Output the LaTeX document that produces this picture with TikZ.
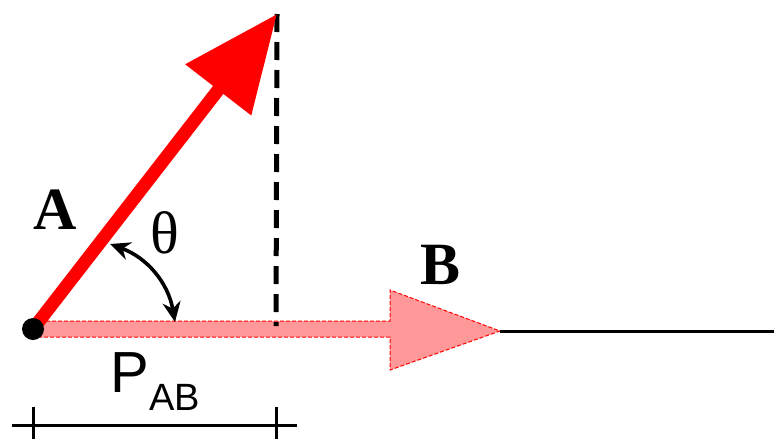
\documentclass[tikz,border=0pt]{standalone}
\usepackage{fontspec}
\setmainfont{Liberation Serif}
\newfontfamily\labelsans{Liberation Sans}
\usetikzlibrary{arrows.meta}

\begin{document}
\begin{tikzpicture}[x=0.5pt, y=-0.5pt,
    vecA/.style={red, line width=6.5pt, -{Triangle[length=48pt, width=40pt]}},
    vecB/.style={fill=red!40, draw=red, line width=0.5pt, dash pattern=on 2pt off 1pt},
    guide/.style={line width=2.5pt, dash pattern=on 9pt off 5pt},
    axis/.style={line width=1.5pt},
    anglemark/.style={line width=1.8pt, {Stealth[length=10pt, width=9pt]}-{Stealth[length=10pt, width=9pt]}},
    vlabel/.style={inner sep=0pt, font=\fontsize{30}{32}\selectfont\bfseries}]
  \useasboundingbox (0,0) rectangle (774,439);

  % Key points (pixel positions)
  \coordinate (O)    at (33,329);
  \coordinate (Atip) at (277,14);
  \coordinate (foot) at (276,326);
  \coordinate (Btip) at (500,331);
  \coordinate (Rend) at (774,331);
  \coordinate (barL) at (12,425);
  \coordinate (barR) at (297,425);
  \coordinate (t1)   at (110,244);
  \coordinate (t2)   at (175,322);

  % Projection B (pink, dashed outline)
  \path[vecB] (40,321) -- (390,321) -- (390,290) -- (Btip)
    -- (390,370) -- (390,337) -- (40,337) -- cycle;

  % Line beyond B
  \draw[axis] (Btip) -- (Rend);

  % Dashed drop line
  \draw[guide] (Atip) -- (foot);

  % Vector A
  \draw[vecA] (O) -- (Atip);

  % Origin dot
  \fill (O) circle (11);

  % Angle theta
  \draw[anglemark] (t1) to[bend left=30] (t2);

  % Measure bar for P_AB
  \draw[axis] (barL) -- (barR);
  \draw[axis] (33,407) coordinate (tickL) -- (33,439);
  \draw[axis] (276,407) coordinate (tickR) -- (276,439);

  % Labels
  \node[vlabel] (labA) at (55,210) {A};
  \node[vlabel] (labB) at (441,265) {B};
  \node[inner sep=0pt, font=\fontsize{30}{32}\selectfont] (labT) at (165,233) {θ};
  \node[inner sep=0pt, anchor=base west] (labP) at (110,392)
    {\labelsans\fontsize{29}{30}\selectfont P\raisebox{-9pt}{\fontsize{19}{20}\selectfont AB}};
\end{tikzpicture}
\end{document}
